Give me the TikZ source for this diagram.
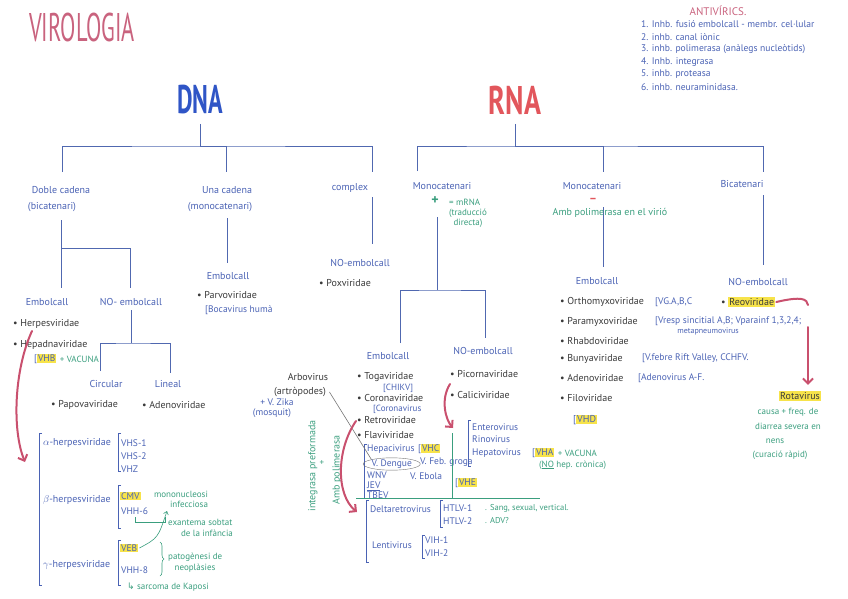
\documentclass[tikz,border=0pt]{standalone}
\usepackage{fontspec}
\setmainfont{PT Sans}
\newfontfamily\symfont{DejaVu Sans}
\usepackage{tikz}
\usetikzlibrary{arrows.meta, positioning, shapes.geometric, decorations.pathreplacing}
\definecolor{titlepink}{HTML}{C9637E}
\definecolor{dnablue}{HTML}{2F55C6}
\definecolor{rnared}{HTML}{E2565C}
\definecolor{inkblue}{HTML}{4A62B4}
\definecolor{treeblue}{HTML}{5068B0}
\definecolor{inkdark}{HTML}{3A3A3A}
\definecolor{inkgreen}{HTML}{3A9E7E}
\definecolor{hlyellow}{HTML}{F7E34A}
\definecolor{arrowpink}{HTML}{C9506E}
\newcommand\hlbox[1]{{\setlength{\fboxsep}{1pt}\colorbox{hlyellow}{#1}}}

\begin{document}
\begin{tikzpicture}[
    x=1pt, y=-1pt,
    font=\fontsize{10}{12}\selectfont,
    lbl/.style={text=inkblue, inner sep=1pt},
    fam/.style={text=inkdark, anchor=west, inner sep=1pt},
    sub/.style={text=inkblue, anchor=west, inner sep=1pt, font=\fontsize{9.5}{10}\selectfont},
    note/.style={text=inkgreen, inner sep=1pt, font=\fontsize{9}{10}\selectfont},
    avlist/.style={text=inkblue, anchor=west, inner sep=0pt, font=\fontsize{9.6}{10}\selectfont},
    tree/.style={draw=treeblue, line width=0.8pt},
    brk/.style={draw=inkblue, line width=0.6pt},
    greenline/.style={draw=inkgreen, line width=0.6pt},
    pinkarrow/.style={-{Straight Barb[length=5pt, width=10pt]}, draw=arrowpink,
                      line width=2pt, line cap=round},
    greenarrow/.style={-{Straight Barb[length=3pt, width=5pt]}, draw=inkgreen, line width=0.6pt}
  ]
    \useasboundingbox (0,0) rectangle (848,599);

    % titol i antivirics
    \node[text=titlepink, font=\fontsize{40}{44}\selectfont] (title) at (82,28)
      {\scalebox{0.56}[1]{VIROLOGIA}};
    \node[text=titlepink, font=\fontsize{11}{12}\selectfont] (antiv) at (718,11) {ANTIVÍRICS.};
    \node[avlist] (av1) at (641,24) {1. Inhb. fusió embolcall - membr. cel·lular};
    \node[avlist] (av2) at (641,37) {2. inhb. canal iònic};
    \node[avlist] (av3) at (641,49) {3. inhb. polimerasa (anàlegs nucleòtids)};
    \node[avlist] (av4) at (641,62) {4. Inhb. integrasa};
    \node[avlist] (av5) at (641,74) {5. inhb. proteasa};
    \node[avlist] (av6) at (641,87) {6. inhb. neuraminidasa.};

    \node[text=dnablue, font=\fontsize{40}{44}\selectfont\bfseries] (dna) at (200,100)
      {\scalebox{0.6}[1]{DNA}};
    \node[text=rnared, font=\fontsize{40}{44}\selectfont\bfseries] (rna) at (515,100)
      {\scalebox{0.7}[1]{RNA}};

    % ---- DNA ----
    \coordinate (dnaJ) at (200,146);
    \coordinate (dnaL) at (62,172);
    \coordinate (dnaM) at (226,172);
    \coordinate (dnaR) at (372,172);
    \draw[tree] ([yshift=-6pt]dna.south) -- (dnaJ);
    \draw[tree] (dnaL) |- (dnaJ) -| (dnaR);
    \draw[tree] (dnaJ) -| (dnaM);

    \node[lbl] (doble) at (61,190) {Doble cadena};
    \node[lbl] (bicat) at (52,207) {(bicatenari)};
    \node[lbl] (una) at (227,190) {Una cadena};
    \node[lbl] (monocat) at (220,207) {(monocatenari)};
    \node[lbl] (complex) at (350,188) {complex};

    % doble cadena
    \coordinate (dcTop) at (61,220);
    \coordinate (dcL) at (61,288);
    \coordinate (dcJ) at (61,248);
    \coordinate (dcR) at (130,288);
    \draw[tree] (dcTop) -- (dcL);
    \draw[tree] (dcJ) -| (dcR);
    \node[lbl] (dembol) at (47,302) {Embolcall};
    \node[lbl] (dnoembol) at (131,302) {NO- embolcall};
    \node[fam] (herpes) at (12,324) {• Herpesviridae};
    \node[fam] (hepadna) at (12,345) {• Hepadnaviridae};
    \node[sub] (vhb) at (33,359) {[\hlbox{VHB}};
    \node[note, right=1pt of vhb] (vhbvac) {+ VACUNA};

    \coordinate (noTop) at (131,310);
    \coordinate (noJ) at (131,343);
    \coordinate (noL) at (100,371);
    \coordinate (noR) at (170,373);
    \draw[tree] (noTop) -- (noJ);
    \draw[tree] (noL) |- (noJ) -| (noR);
    \node[lbl] (circ) at (106,384) {Circular};
    \node[lbl] (lineal) at (168,384) {Lineal};
    \node[fam] (papova) at (50,405) {• Papovaviridae};
    \node[fam] (adenod) at (141,405) {• Adenoviridae};

    % una cadena
    \coordinate (ucTop) at (227,218);
    \coordinate (ucBot) at (227,263);
    \draw[tree] (ucTop) -- (ucBot);
    \node[lbl] (uembol) at (228,276) {Embolcall};
    \node[fam] (parvo) at (196,295) {• Parvoviridae};
    \node[sub] (boca) at (204,310) {[Bocavirus humà};

    % complex
    \coordinate (cxTop) at (372,197);
    \coordinate (cxBot) at (372,244);
    \draw[tree] (cxTop) -- (cxBot);
    \node[lbl] (cxnoembol) at (360,263) {NO-embolcall};
    \node[fam] (pox) at (318,283) {• Poxviridae};

    % herpesviridae
    \coordinate (herpEnd) at (25,462);
    \draw[pinkarrow] ([xshift=20pt, yshift=-7pt]herpes.west) .. controls (14,370) and (12,430) .. (herpEnd);
    \draw[brk] (42,433) -| (39,585) -- (42,585);

    \node[fam, text=inkblue] (alpha) at (42,443) {$\alpha$-herpesviridae};
    \draw[brk] (121,433) -| (118,471) -- (121,471);
    \node[sub] (vhs1) at (120,443) {VHS-1};
    \node[sub] (vhs2) at (120,456) {VHS-2};
    \node[sub] (vhz) at (120,469) {VHZ};

    \node[fam, text=inkblue] (beta) at (42,500) {$\beta$-herpesviridae};
    \draw[brk] (121,485) -| (118,528) -- (121,528);
    \node[sub] (cmv) at (119,496) {\hlbox{CMV}};
    \node[sub] (vhh6) at (120,511) {VHH-6};
    \node[note] (mono) at (181,494) {mononucleosi};
    \node[note] (infec) at (189,504) {infecciosa};
    \draw[greenline] (135,517) |- (165,522) -- (165,517);
    \node[note, anchor=west] (exant) at (167,522) {exantema sobtat};
    \node[note] (infan) at (207,533) {de la infància};

    \node[fam, text=inkblue] (gamma) at (42,565) {$\gamma$-herpesviridae};
    \draw[brk] (121,540) -| (118,585) -- (121,585);
    \node[sub] (veb) at (119,548) {\hlbox{VEB}};
    \node[sub] (vhh8) at (120,570) {VHH-8};
    \draw[greenarrow] (veb.east) .. controls (158,538) .. (167,511);
    \draw[greenline, decorate, decoration={brace, amplitude=4pt}] (160,542) -- (160,576);
    \node[note, anchor=west] (patog) at (167,557) {patogènesi de};
    \node[note] (neopl) at (195,568) {neoplàsies};
    \node[note, anchor=west] (kaposi) at (126,587) {{\symfont ↳} sarcoma de Kaposi};

    % ---- RNA ----
    \coordinate (rnaJ) at (515,146);
    \coordinate (rnaL) at (417,171);
    \coordinate (rnaM) at (603,172);
    \coordinate (rnaR) at (763,172);
    \draw[tree] ([yshift=-6pt]rna.south) -- (rnaJ);
    \draw[tree] (rnaL) |- (rnaJ) -| (rnaR);
    \draw[tree] (rnaJ) -| (rnaM);

    \node[lbl] (monoP) at (442,186) {Monocatenari};
    \node[lbl] (monoN) at (592,186) {Monocatenari};
    \node[lbl] (bicatR) at (742,184) {Bicatenari};

    % monocatenari +
    \node[text=inkgreen, font=\fontsize{14}{14}\selectfont\bfseries] (plus) at (435,201) {+};
    \node[note, anchor=west] (mrna) at (448,202) {= mRNA};
    \node[note] (trad) at (468,213) {(traducció};
    \node[note] (direc) at (468,223) {directa)};
    \coordinate (mpTop) at (437,217);
    \coordinate (mpJ) at (437,290);
    \coordinate (mpL) at (400,343);
    \coordinate (mpR) at (485,338);
    \draw[tree] (mpTop) -- (mpJ);
    \draw[tree] (mpL) |- (mpJ) -| (mpR);
    \node[lbl] (rembol) at (388,356) {Embolcall};
    \node[lbl] (rnoembol) at (483,351) {NO-embolcall};

    \node[fam] (toga) at (356,377) {• Togaviridae};
    \node[sub, font=\fontsize{9}{10}\selectfont] (chikv) at (382,388) {[CHIKV]};
    \node[fam] (corona) at (356,398) {• Coronaviridae};
    \node[sub, font=\fontsize{9}{10}\selectfont] (coronav) at (372,409) {[Coronavirus};
    \node[fam] (retro) at (356,420) {• Retroviridae};
    \node[fam] (flavi) at (356,435) {• Flaviviridae};

    \node[text=inkdark] (arbo) at (308,377) {Arbovirus};
    \node[text=inkdark] (artro) at (300,392) {(artròpodes)};
    \node[sub, anchor=center] (zika) at (277,402) {+ V. Zika};
    \node[sub, anchor=center] (mosq) at (272,413) {(mosquit)};

    \draw[brk] (367,444) -| (364,498);
    \node[sub] (hepaci) at (366,449) {Hepacivirus};
    \node[sub] (vhc) at (417,449) {[\hlbox{VHC}};
    \node[sub, ellipse, draw=inkdark!70, inner sep=0pt] (dengue) at (363,464) {V. Dengue};
    \node[sub] (febre) at (419,462) {V. Feb. groga};
    \node[sub] (wnv) at (366,475) {WNV};
    \node[sub] (ebola) at (409,476) {V. Ebola};
    \node[sub] (jev) at (366,486) {\underline{JEV}};
    \node[sub] (tbev) at (366,495) {TBEV};
    \draw[draw=inkdark!70, line width=0.6pt] (artro.east) -- (dengue.north west);

    \node[note, rotate=90, font=\fontsize{10}{11}\selectfont] (integ) at (313,466) {integrasa preformada};
    \node[note] (plusg) at (322,463) {+};
    \node[note, rotate=90, font=\fontsize{10}{11}\selectfont] (ambpol) at (337,470) {Amb polimerasa};

    \coordinate (retroEnd) at (357,512);
    \draw[pinkarrow] ([yshift=-1pt]retro.west) .. controls (336,450) and (336,495) .. (retroEnd);

    \draw[greenline] (356,498) -- (540,498);
    \draw[greenline] (452,433) -- (452,498);
    \node[sub] (vhe) at (454,483) {[\hlbox{VHE}};

    \draw[brk] (369,500) -| (366,562) -- (369,562);
    \node[sub] (delta) at (369,509) {Deltaretrovirus};
    \draw[brk] (443,500) -| (440,527) -- (443,527);
    \node[sub] (htlv1) at (442,508) {HTLV-1};
    \node[sub] (htlv2) at (442,521) {HTLV-2};
    \node[note, anchor=west, font=\fontsize{8.5}{9}\selectfont] (sang) at (484,508) {. Sang, sexual, vertical.};
    \node[note, anchor=west, font=\fontsize{8.5}{9}\selectfont] (adv) at (484,521) {. ADV?};
    \node[sub] (lenti) at (371,545) {Lentivirus};
    \draw[brk] (425,535) -| (422,558) -- (425,558);
    \node[sub] (vih1) at (424,540) {VIH-1};
    \node[sub] (vih2) at (424,553) {VIH-2};

    \node[fam] (picorna) at (449,374) {• Picornaviridae};
    \node[fam] (calici) at (449,395) {• Caliciviridae};
    \coordinate (picEnd) at (453,428);
    \draw[pinkarrow] (450,384) .. controls (440,400) and (446,420) .. (picEnd);
    \draw[brk] (471,420) -| (468,466) -- (471,466);
    \node[sub] (entero) at (471,427) {Enterovirus};
    \node[sub] (rino) at (471,439) {Rinovirus};
    \node[sub] (hepato) at (471,453) {Hepatovirus};
    \node[sub] (vha) at (531,453) {[\hlbox{VHA}};
    \node[note, right=1pt of vha] (vhavac) {+ VACUNA};
    \node[note, anchor=west] (nohep) at (538,465) {(\underline{NO} hep. crònica)};

    % monocatenari -
    \node[text=rnared, font=\fontsize{12}{12}\selectfont\bfseries] (minus) at (593,200) {--};
    \coordinate (mnTop) at (603,207);
    \coordinate (mnBot) at (603,267);
    \draw[tree] (mnTop) -- (mnBot);
    \node[note, font=\fontsize{10}{12}\selectfont] (ambvir) at (610,213) {Amb polimerasa en el virió};
    \node[lbl] (nembol) at (597,281) {Embolcall};
    \node[fam] (orthomyxo) at (559,302) {• Orthomyxoviridae};
    \node[sub] (vg) at (654,302) {[VG.A,B,C};
    \node[fam] (paramyxo) at (559,322) {• Paramyxoviridae};
    \node[sub] (vresp) at (654,321) {[Vresp sincitial A,B; Vparainf 1,3,2,4;};
    \node[sub, anchor=center, font=\fontsize{8}{9}\selectfont] (metap) at (708,331) {metapneumovirus};
    \node[fam] (rhabdo) at (559,341) {• Rhabdoviridae};
    \node[fam] (bunya) at (559,359) {• Bunyaviridae};
    \node[sub] (rift) at (641,358) {[V.febre Rift Valley, CCHFV.};
    \node[fam] (adenor) at (559,378) {• Adenoviridae};
    \node[sub] (adenov) at (637,378) {[Adenovirus A-F.};
    \node[fam] (filo) at (559,398) {• Filoviridae};
    \node[sub, font=\fontsize{10}{12}\selectfont] (vhd) at (572,420) {[\hlbox{VHD}};

    % bicatenari
    \coordinate (bcTop) at (763,195);
    \coordinate (bcBot) at (763,265);
    \draw[tree] (bcTop) -- (bcBot);
    \node[lbl] (bnoembol) at (758,282) {NO-embolcall};
    \node[fam] (reo) at (720,302) {• \hlbox{Reoviridae}};
    \draw[draw=arrowpink, line width=2pt, line cap=round] (reo.east) .. controls (802,296) and (807,299) .. (808,305);
    \node[text=inkdark] (rota) at (800,396) {\hlbox{Rotavirus}};
    \coordinate (reoDown) at (808,327);
    \draw[pinkarrow] (reoDown) -- ([yshift=3pt]rota.north -| reoDown);
    \node[note] (causa) at (788,412) {causa + freq. de};
    \node[note] (diarr) at (788,426) {diarrea severa en};
    \node[note] (nens) at (775,441) {nens};
    \node[note] (curac) at (780,455) {(curació ràpid)};
\end{tikzpicture}
\end{document}
